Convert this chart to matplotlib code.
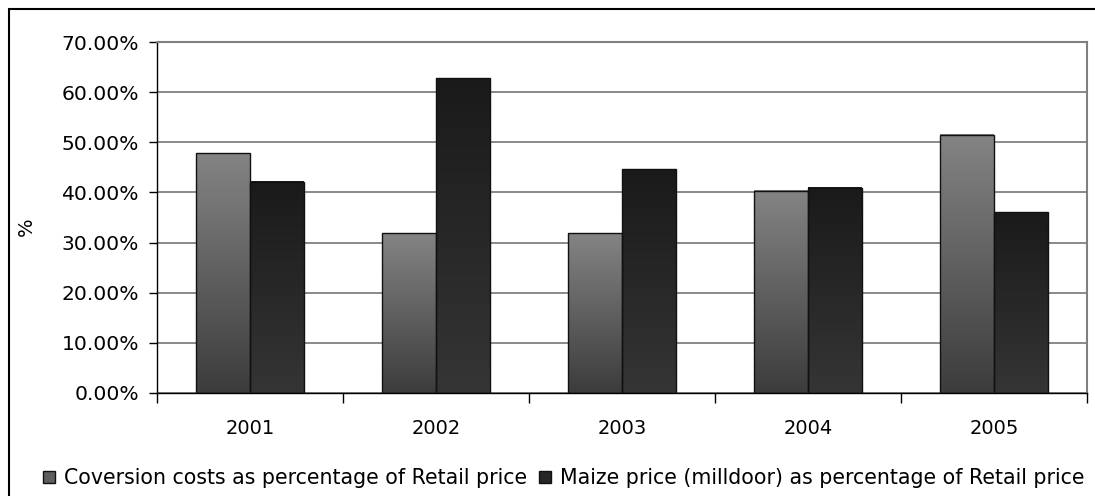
import numpy as np
import matplotlib
matplotlib.use('Agg')
import matplotlib.pyplot as plt
from matplotlib.colors import LinearSegmentedColormap
from matplotlib.patches import Rectangle, Patch
from matplotlib.ticker import FuncFormatter

years = ['2001', '2002', '2003', '2004', '2005']
conversion = [47.8, 31.9, 31.9, 40.3, 51.5]
maize = [42.1, 62.8, 44.6, 40.9, 36.0]
series_labels = ['Coversion costs as percentage of Retail price',
                 'Maize price (milldoor) as percentage of Retail price']
yticks = [0, 10, 20, 30, 40, 50, 60, 70]

plt.rcParams['font.family'] = ['DejaVu Sans']

W, H = 1095, 496
fig = plt.figure(figsize=(W / 100, H / 100), dpi=100)
ax = fig.add_axes([157 / W, 1 - 393 / H, (1087 - 157) / W, (393 - 42) / H])

x = np.arange(len(years))
w = 0.288
b1 = ax.bar(x - w / 2, conversion, w, facecolor='none', edgecolor='#111111', lw=1.0, zorder=3)
b2 = ax.bar(x + w / 2, maize, w, facecolor='none', edgecolor='#111111', lw=1.0, zorder=3)

grad = np.linspace(0, 1, 256).reshape(-1, 1)
for bars, (cbot, ctop) in [(b1, ('#3c3c3c', '#848484')), (b2, ('#353535', '#1a1a1a'))]:
    cmap = LinearSegmentedColormap.from_list('g', [cbot, ctop])
    for b in bars:
        x0, y0, bw, bh = b.get_x(), b.get_y(), b.get_width(), b.get_height()
        ax.imshow(grad, cmap=cmap, extent=[x0, x0 + bw, y0, y0 + bh], origin='lower',
                  aspect='auto', zorder=2.5, interpolation='bicubic')

ax.set_xlim(-0.5, len(years) - 0.5)
ax.set_ylim(0, 70)
ax.set_yticks(yticks)
ax.yaxis.set_major_formatter(FuncFormatter(lambda v, p: f'{v:.2f}%'))
ax.yaxis.grid(True, color='#808080', lw=1.3, zorder=0)
ax.set_axisbelow(True)

ax.set_xticks(np.arange(-0.5, len(years), 1.0))
ax.set_xticklabels([])
ax.set_xticks(x, minor=True)
ax.set_xticklabels(years, minor=True)
ax.tick_params(axis='x', which='major', length=7, width=1, color='black', direction='out')
ax.tick_params(axis='x', which='minor', length=0, pad=19, labelsize=14)
ax.tick_params(axis='y', length=6, width=1, color='black', pad=7, labelsize=14.6)

for s in ['left', 'bottom']:
    ax.spines[s].set_color('black')
    ax.spines[s].set_linewidth(1.0)
for s in ['top', 'right']:
    ax.spines[s].set_color('#808080')
    ax.spines[s].set_linewidth(1.5)

ax.set_ylabel('%', fontsize=14)
ax.yaxis.set_label_coords((36 - 157) / 930, (393 - 227) / 351)

handles = [Patch(facecolor='#5e5e5e', edgecolor='#111111', lw=1.0),
           Patch(facecolor='#262626', edgecolor='#111111', lw=1.0)]
fig.legend(handles, series_labels, loc='center', bbox_to_anchor=(564 / W, 1 - 478 / H),
           ncol=2, frameon=False, fontsize=14.8, handlelength=0.55, handleheight=0.55,
           handletextpad=0.45, columnspacing=0.6, borderpad=0, borderaxespad=0)

fig.patches.append(Rectangle((9 / W, -0.1), 1.2, 1.1 - 9 / H, transform=fig.transFigure,
                             fill=False, edgecolor='black', lw=1.5))

fig.savefig('out.png', dpi=100)
